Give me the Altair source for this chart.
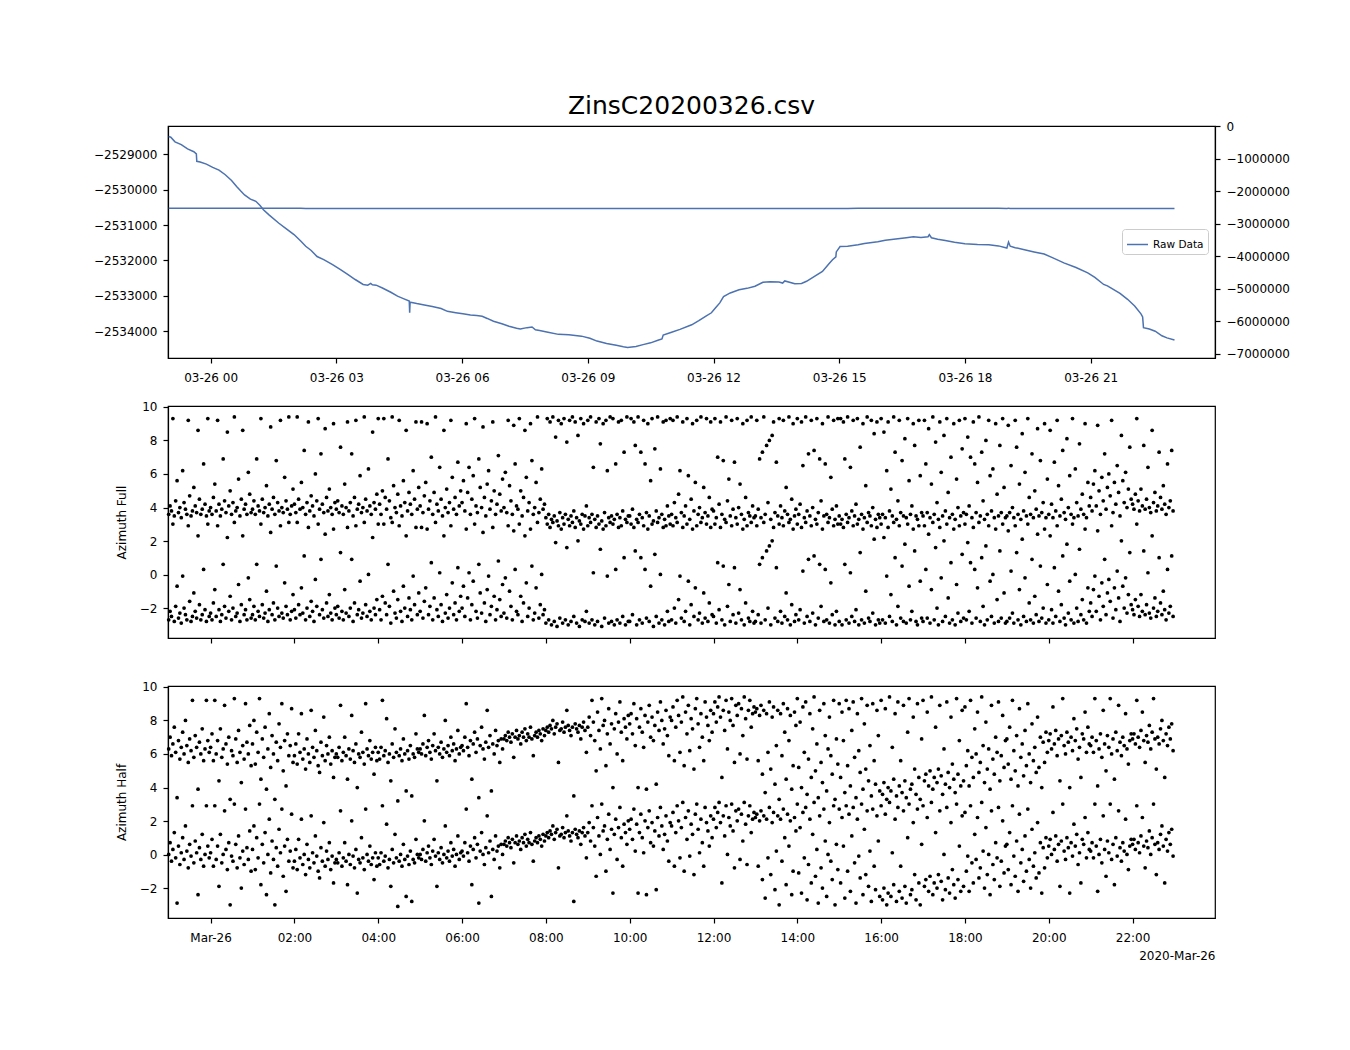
import altair as alt
import pandas as pd
import numpy as np

TITLE = "ZinsC20200326.csv"

# ---- top panel: raw data (hours relative to 2020-03-26 00:00) ----
raw_hours = [-1.00, -0.95, -0.85, -0.70, -0.55, -0.40, -0.34, -0.33, -0.25, -0.10, 0.05, 0.20, 0.35, 0.50,
             0.62, 0.72, 0.81, 0.95, 1.08, 1.18, 1.26, 1.40, 1.63, 1.80, 1.99, 2.15, 2.27, 2.40, 2.54, 2.70,
             2.91, 3.10, 3.28, 3.45, 3.64, 3.75, 3.82, 3.86, 3.95, 4.10, 4.30, 4.46, 4.60, 4.74, 4.75, 4.76,
             4.80, 4.92, 5.10, 5.29, 5.50, 5.65, 5.85, 6.02, 6.20, 6.35, 6.48, 6.60, 6.75, 6.95, 7.12, 7.30,
             7.39, 7.55, 7.67, 7.75, 7.85, 8.05, 8.30, 8.55, 8.85, 9.05, 9.22, 9.45, 9.68, 9.85, 9.95, 10.15,
             10.32, 10.50, 10.69, 10.77, 10.80, 11.00, 11.20, 11.48, 11.65, 11.81, 11.95, 12.05, 12.15, 12.24,
             12.40, 12.61, 12.80, 12.99, 13.18, 13.35, 13.56, 13.65, 13.70, 13.94, 14.10, 14.22, 14.40, 14.60,
             14.75, 14.84, 14.92, 14.93, 15.02, 15.20, 15.45, 15.60, 15.92, 16.10, 16.40, 16.60, 16.77, 16.95,
             17.12, 17.15, 17.20, 17.35, 17.53, 17.75, 18.00, 18.30, 18.57, 18.80, 19.00, 19.04, 19.08, 19.20,
             19.42, 19.65, 19.89, 20.10, 20.36, 20.65, 20.93, 21.10, 21.31, 21.40, 21.50, 21.70, 21.88, 22.05,
             22.20, 22.24, 22.26, 22.40, 22.54, 22.70, 22.82, 23.00]
raw_values = [-2528500, -2528520, -2528650, -2528730, -2528850, -2528930, -2528990, -2529200, -2529220,
              -2529280, -2529370, -2529450, -2529580, -2529740, -2529910, -2530040, -2530150, -2530270,
              -2530330, -2530450, -2530570, -2530720, -2530950, -2531100, -2531270, -2531450, -2531600,
              -2531720, -2531890, -2531980, -2532120, -2532260, -2532400, -2532540, -2532680, -2532700,
              -2532650, -2532690, -2532700, -2532780, -2532900, -2533010, -2533080, -2533150, -2533480,
              -2533180, -2533190, -2533220, -2533260, -2533300, -2533360, -2533440, -2533480, -2533510,
              -2533540, -2533560, -2533580, -2533640, -2533720, -2533790, -2533860, -2533920, -2533940,
              -2533900, -2533880, -2533960, -2533980, -2534030, -2534090, -2534100, -2534140, -2534200,
              -2534280, -2534350, -2534400, -2534440, -2534460, -2534430, -2534380, -2534330, -2534250,
              -2534220, -2534110, -2534030, -2533950, -2533820, -2533700, -2533580, -2533480, -2533340,
              -2533200, -2533020, -2532920, -2532830, -2532790, -2532730, -2532620, -2532600, -2532610,
              -2532640, -2532580, -2532660, -2532650, -2532590, -2532460, -2532310, -2532100, -2531980,
              -2531900, -2531760, -2531610, -2531600, -2531560, -2531520, -2531470, -2531430, -2531390,
              -2531360, -2531330, -2531350, -2531330, -2531270, -2531360, -2531400, -2531440, -2531490,
              -2531530, -2531550, -2531560, -2531590, -2531650, -2531480, -2531600, -2531640, -2531700,
              -2531760, -2531820, -2531930, -2532070, -2532200, -2532350, -2532480, -2532680, -2532720,
              -2532790, -2532930, -2533100, -2533290, -2533510, -2533600, -2533900, -2533940, -2534000,
              -2534130, -2534190, -2534250]

# ---- azimuth samples, one every 2 minutes from 2020-03-25 23:00 (upper copy, in [pi, 3pi]) ----
full_u = [
    3.6, 4.1, 3.8, 9.3, 3.5, 4.4, 5.6, 3.7, 4.0, 3.4, 6.2, 4.3, 3.9, 3.6, 9.2, 4.7, 3.5, 3.8, 5.2, 4.1, 3.7, 8.6, 4.5, 3.6, 3.9, 6.6, 4.2, 3.5, 9.3, 3.8,
    4.0, 3.6, 4.6, 5.4, 3.8, 9.2, 4.2, 3.5, 3.9, 6.9, 4.4, 3.7, 8.5, 4.1, 5.0, 3.6, 4.3, 9.4, 3.8, 4.0, 5.7, 3.5, 4.5, 8.6, 3.9, 4.2, 3.6, 6.1, 4.8, 3.7,
    3.9, 4.4, 3.6, 6.9, 4.1, 3.8, 9.3, 4.5, 3.7, 4.0, 5.3, 3.5, 4.2, 8.8, 3.9, 4.6, 3.6, 6.8, 4.3, 3.8, 9.2, 4.0, 3.7, 5.8, 4.4, 3.9, 9.4, 3.6, 4.1, 5.1,
    4.2, 3.7, 9.4, 4.5, 3.9, 5.5, 4.0, 7.4, 3.6, 4.3, 9.1, 3.8, 4.7, 4.1, 3.5, 6.0, 4.4, 9.3, 3.9, 7.2, 4.2, 3.7, 8.7, 4.6, 3.8, 5.1, 4.0, 3.6, 9.0, 4.3,
    3.9, 4.4, 3.7, 7.6, 4.1, 3.6, 5.4, 4.0, 9.1, 3.8, 4.3, 7.2, 3.5, 4.6, 9.2, 3.9, 4.2, 5.9, 3.7, 4.0, 9.4, 4.5, 3.8, 6.3, 4.1, 3.6, 8.5, 4.3, 3.9, 4.8,
    9.3, 4.2, 3.6, 5.0, 9.3, 4.6, 3.9, 6.9, 4.4, 3.4, 9.4, 5.3, 4.0, 3.7, 4.8, 9.2, 4.1, 3.5, 5.6, 4.3, 8.6, 3.8, 4.9, 4.2, 3.6, 6.2, 4.5, 9.1, 3.9, 5.2,
    4.1, 9.1, 3.7, 4.7, 5.5, 9.0, 3.9, 4.4, 7.0, 3.6, 4.9, 9.4, 4.2, 3.8, 6.4, 4.5, 3.5, 8.6, 4.0, 5.1, 3.7, 4.3, 9.2, 5.8, 3.9, 4.6, 3.6, 6.7, 4.1, 5.0,
    4.3, 5.6, 3.8, 9.0, 4.9, 6.4, 3.6, 4.5, 5.9, 9.3, 4.1, 3.7, 6.9, 5.2, 4.0, 8.8, 4.6, 3.5, 5.4, 6.2, 3.9, 4.4, 9.1, 5.0, 3.6, 4.2, 7.1, 4.8, 3.8, 5.7,
    4.0, 6.1, 3.7, 9.2, 5.3, 4.4, 3.6, 8.9, 6.6, 4.1, 3.9, 9.3, 5.0, 3.5, 4.6, 8.6, 5.8, 3.8, 4.3, 9.0, 6.8, 3.6, 4.0, 5.5, 9.4, 3.7, 4.5, 6.3, 3.9, 4.2,
    3.4, 9.3, 3.6, 9.1, 3.3, 9.4, 3.5, 8.2, 3.2, 9.2, 3.7, 9.0, 3.4, 9.3, 3.6, 7.9, 3.3, 9.2, 3.5, 9.4, 3.8, 9.1, 3.4, 8.3, 3.2, 9.3, 3.6, 9.0, 3.5, 4.1,
    9.2, 3.4, 9.4, 3.6, 6.4, 3.3, 9.1, 3.5, 9.3, 7.8, 3.2, 9.0, 3.7, 9.2, 6.2, 3.4, 9.4, 3.5, 9.3, 3.3, 6.6, 3.6, 9.1, 3.4, 9.2, 3.8, 7.3, 3.3, 9.4, 3.5,
    3.5, 9.3, 3.9, 9.1, 7.7, 3.3, 9.4, 3.6, 7.3, 3.4, 9.2, 6.6, 3.7, 9.0, 3.5, 5.6, 9.3, 3.2, 7.5, 3.8, 9.4, 3.4, 6.3, 3.6, 9.1, 3.3, 9.2, 4.1, 3.5, 9.3,
    3.6, 9.2, 4.3, 3.4, 9.4, 4.8, 6.2, 3.7, 9.1, 3.5, 4.1, 9.3, 5.9, 3.3, 4.5, 9.0, 3.8, 5.5, 9.2, 3.6, 4.0, 9.4, 3.4, 5.2, 3.7, 9.3, 3.5, 4.6, 9.1, 3.9,
    3.8, 9.3, 3.4, 7.0, 4.2, 9.1, 3.6, 6.8, 3.3, 9.4, 4.4, 5.7, 3.5, 9.2, 3.9, 6.7, 3.4, 9.3, 4.0, 5.4, 3.6, 9.0, 3.3, 4.6, 9.2, 3.7, 3.5, 9.4, 4.1, 3.4,
    3.5, 9.2, 3.9, 6.9, 3.4, 7.3, 9.4, 3.6, 7.7, 4.3, 8.0, 3.3, 8.3, 9.1, 3.7, 6.7, 3.5, 9.3, 4.1, 3.4, 9.2, 3.8, 5.2, 3.6, 9.4, 3.3, 4.5, 9.0, 3.5, 3.9,
    9.3, 3.6, 4.2, 9.1, 6.5, 3.4, 9.4, 3.8, 7.2, 3.5, 9.2, 4.0, 7.4, 3.3, 9.3, 3.7, 6.9, 4.4, 9.0, 3.5, 6.6, 3.6, 9.4, 3.4, 5.8, 3.9, 9.2, 3.3, 4.1, 9.3,
    3.5, 9.3, 3.3, 9.1, 6.9, 3.6, 9.4, 3.4, 6.4, 3.8, 9.2, 3.5, 4.2, 9.3, 3.3, 7.6, 3.6, 9.0, 3.4, 5.3, 9.4, 3.7, 3.5, 9.2, 4.0, 8.4, 3.3, 9.1, 3.6, 3.4,
    9.3, 3.6, 8.5, 3.4, 6.2, 9.1, 3.8, 5.1, 3.5, 9.4, 7.3, 3.3, 4.4, 9.2, 3.7, 6.8, 3.5, 8.1, 3.4, 9.3, 5.6, 3.6, 4.1, 9.0, 7.7, 3.5, 3.3, 9.2, 5.9, 3.7,
    3.5, 9.2, 6.6, 3.7, 8.7, 3.4, 5.4, 9.4, 3.6, 7.9, 4.3, 3.3, 9.1, 6.1, 3.5, 8.3, 3.8, 9.3, 4.9, 3.4, 7.0, 3.6, 9.0, 3.3, 5.7, 4.0, 9.2, 3.5, 7.5, 3.7,
    9.3, 3.6, 8.2, 4.1, 7.0, 3.4, 9.1, 6.6, 3.7, 5.5, 9.4, 3.5, 7.3, 4.4, 3.3, 8.0, 3.6, 9.2, 5.9, 3.8, 6.3, 3.4, 9.0, 4.8, 3.5, 7.7, 3.7, 9.3, 5.2, 3.4,
    3.5, 8.9, 3.7, 6.5, 4.0, 3.4, 9.2, 7.6, 3.6, 5.4, 3.3, 8.4, 3.8, 6.1, 3.5, 9.3, 4.6, 3.6, 7.2, 3.4, 5.0, 3.9, 8.7, 3.5, 6.8, 3.7, 4.3, 9.0, 3.4, 5.7,
    3.6, 8.6, 4.2, 3.4, 6.7, 3.8, 9.2, 5.3, 3.5, 4.5, 7.4, 3.7, 3.3, 8.1, 4.0, 5.9, 3.6, 9.3, 3.4, 6.3, 4.3, 3.5, 7.8, 3.9, 4.8, 3.6, 9.0, 3.4, 5.5, 4.1,
    4.6, 3.8, 5.4, 6.2, 4.1, 8.9, 5.0, 3.6, 5.8, 4.4, 7.2, 3.9, 5.2, 6.0, 4.7, 9.2, 3.7, 5.5, 4.2, 6.5, 4.9, 3.5, 8.3, 5.6, 4.3, 6.1, 4.0, 5.1, 7.6, 4.5,
    4.2, 3.9, 4.8, 9.3, 4.4, 3.8, 5.1, 4.1, 7.7, 3.9, 4.5, 6.4, 4.0, 3.7, 8.6, 4.3, 4.9, 3.8, 4.1, 7.3, 4.6, 3.9, 5.3, 4.2, 3.6, 6.6, 4.0, 4.4, 7.4, 3.8,
]

half_u = [
    6.3, 7.0, 5.9, 6.6, 7.6, 6.1, 3.4, 6.8, 5.7, 6.4, 7.3, 6.0, 8.0, 6.5, 5.5, 6.9, 6.2, 9.2, 5.8, 7.1, 6.4, 3.9, 6.7, 6.0, 7.5, 5.6, 6.3, 9.2, 6.8, 6.1,
    6.4, 7.2, 5.6, 9.2, 6.0, 6.8, 4.4, 7.5, 5.8, 6.3, 8.9, 6.6, 5.4, 7.0, 3.3, 6.2, 5.9, 9.3, 6.9, 5.5, 7.4, 6.1, 4.3, 6.5, 5.7, 9.0, 6.7, 6.0, 7.7, 5.3,
    6.6, 8.0, 5.4, 7.3, 6.1, 9.3, 4.5, 6.9, 5.8, 7.6, 3.9, 6.3, 8.4, 5.2, 7.1, 6.0, 3.3, 6.7, 5.6, 7.8, 6.4, 9.0, 5.0, 6.8, 4.1, 7.2, 5.9, 6.5, 8.7, 5.5,
    5.9, 6.6, 5.4, 7.2, 6.1, 8.4, 5.7, 6.3, 5.1, 6.9, 6.0, 5.5, 8.6, 6.4, 5.8, 7.4, 6.2, 5.3, 4.9, 6.7, 5.9, 8.2, 5.6, 6.5, 6.0, 7.0, 5.4, 6.2, 4.6, 5.8,
    6.0, 5.8, 6.4, 8.9, 5.6, 6.1, 7.0, 5.9, 4.5, 6.3, 5.7, 8.3, 6.2, 5.5, 6.6, 4.0, 6.0, 5.8, 7.3, 6.1, 5.4, 9.0, 6.3, 5.9, 6.8, 5.7, 6.1, 4.8, 6.4, 5.6,
    6.1, 5.7, 6.4, 9.2, 5.9, 6.2, 8.1, 5.5, 6.0, 4.4, 6.6, 5.8, 7.5, 6.1, 3.2, 5.9, 6.3, 5.6, 6.9, 6.0, 3.8, 6.2, 5.7, 6.5, 3.5, 6.0, 5.8, 7.2, 6.3, 6.1,
    6.3, 6.0, 6.6, 8.3, 5.9, 6.4, 6.8, 6.1, 5.7, 6.5, 7.2, 6.2, 4.4, 6.4, 6.0, 6.7, 5.8, 6.3, 8.0, 6.1, 6.5, 5.9, 7.0, 6.2, 6.6, 5.6, 6.3, 7.4, 6.0, 6.4,
    6.5, 6.2, 7.0, 9.0, 6.4, 5.9, 6.8, 4.5, 6.6, 7.3, 6.1, 6.9, 3.4, 6.5, 7.6, 6.3, 5.7, 6.7, 8.6, 6.4, 7.1, 3.8, 6.6, 6.0, 7.4, 6.5, 6.8, 5.5, 6.9, 6.3,
    6.9, 7.1, 6.8, 7.3, 7.0, 6.7, 7.2, 5.8, 7.0, 7.4, 6.9, 7.1, 6.6, 7.3, 7.0, 7.5, 6.8, 7.2, 7.0, 7.6, 6.9, 5.9, 7.1, 7.3, 7.0, 7.4, 7.2, 6.8, 7.5, 7.1,
    7.4, 7.6, 7.3, 7.7, 7.5, 8.0, 7.2, 7.6, 7.8, 5.5, 7.4, 7.5, 7.9, 7.3, 7.6, 8.6, 7.7, 7.4, 7.1, 7.6, 3.5, 7.8, 7.5, 7.3, 7.7, 6.9, 7.6, 7.9, 7.4, 6.1,
    7.6, 8.2, 7.1, 9.2, 7.9, 6.8, 5.0, 8.5, 7.4, 6.3, 9.3, 7.7, 8.0, 5.3, 7.2, 8.7, 6.6, 7.8, 4.0, 7.5, 8.4, 6.0, 7.9, 9.1, 7.3, 5.6, 8.1, 7.6, 6.9, 8.3,
    7.8, 8.4, 7.2, 9.0, 6.5, 8.1, 4.0, 7.6, 8.7, 7.3, 6.4, 8.3, 3.9, 7.9, 8.9, 7.0, 8.2, 6.8, 7.7, 4.2, 8.5, 7.4, 9.1, 8.0, 6.6, 7.5, 8.6, 7.1, 5.9, 8.2,
    8.0, 8.8, 5.6, 7.6, 9.2, 8.3, 6.1, 7.9, 9.4, 5.3, 8.5, 7.2, 8.9, 6.2, 8.1, 7.5, 5.1, 8.7, 9.3, 7.8, 6.4, 8.4, 7.0, 5.6, 9.1, 8.2, 7.7, 6.8, 8.6, 7.3,
    8.4, 9.1, 7.9, 8.8, 9.4, 8.2, 4.6, 8.6, 7.4, 9.2, 6.3, 8.5, 8.0, 9.3, 7.7, 5.5, 8.9, 8.3, 9.0, 6.0, 8.7, 7.1, 9.4, 8.1, 5.7, 8.6, 9.2, 7.6, 8.4, 8.8,
    8.5, 8.7, 5.6, 8.3, 8.9, 4.8, 8.6, 3.7, 8.4, 6.1, 9.1, 5.1, 8.2, 8.8, 4.2, 6.5, 8.6, 3.3, 8.4, 5.9, 9.0, 7.3, 4.5, 8.7, 6.8, 8.3, 3.9, 5.3, 8.5, 7.7,
    9.3, 5.2, 7.9, 4.0, 8.8, 6.1, 9.1, 3.6, 5.7, 8.4, 4.6, 7.5, 9.4, 5.0, 6.6, 3.4, 8.6, 5.5, 4.3, 9.0, 7.1, 3.8, 6.3, 8.2, 5.9, 4.8, 9.2, 3.3, 6.9, 5.4,
    9.0, 4.6, 8.5, 6.8, 3.7, 9.2, 5.3, 8.7, 4.1, 7.4, 9.1, 5.8, 3.4, 8.4, 6.2, 4.9, 9.3, 3.9, 7.8, 5.1, 8.9, 4.4, 6.5, 3.5, 9.0, 5.6, 4.2, 8.6, 7.1, 3.8,
    9.2, 3.6, 4.3, 8.7, 3.3, 4.0, 9.4, 3.8, 6.4, 4.5, 8.4, 3.5, 9.1, 4.1, 5.6, 3.7, 8.9, 4.4, 3.4, 7.3, 9.3, 3.9, 4.2, 8.2, 5.1, 3.6, 9.0, 4.6, 3.3, 6.9,
    9.2, 4.4, 4.8, 8.5, 4.1, 5.0, 9.4, 3.9, 4.6, 7.6, 4.3, 5.1, 8.9, 4.7, 3.6, 6.3, 4.2, 9.1, 4.9, 4.0, 8.2, 5.4, 4.5, 3.7, 9.3, 4.8, 6.8, 4.1, 8.6, 4.4,
    8.8, 5.3, 6.2, 4.1, 9.2, 5.8, 4.6, 7.5, 6.0, 8.5, 4.9, 5.5, 9.4, 6.5, 4.3, 7.9, 5.1, 6.3, 3.9, 8.9, 5.7, 4.8, 7.0, 6.1, 9.1, 4.4, 5.9, 8.3, 5.2, 6.8,
    6.9, 5.4, 7.6, 4.5, 9.2, 6.2, 5.0, 7.1, 4.1, 8.7, 5.8, 6.6, 4.7, 7.4, 5.3, 9.0, 6.0, 4.3, 7.8, 5.6, 6.4, 4.9, 8.2, 5.2, 7.0, 4.0, 6.7, 5.5, 7.3, 6.1,
    6.8, 7.2, 6.3, 8.8, 6.6, 7.4, 5.9, 6.9, 4.4, 7.1, 9.3, 6.5, 6.0, 7.3, 6.7, 4.0, 7.0, 6.2, 8.1, 6.8, 7.5, 5.7, 6.4, 4.6, 7.2, 6.9, 8.5, 6.1, 7.6, 6.6,
    6.5, 7.0, 6.1, 9.3, 6.8, 4.1, 6.3, 7.2, 5.8, 8.6, 6.6, 5.0, 7.1, 6.4, 9.3, 6.0, 6.9, 4.5, 7.3, 6.2, 8.9, 6.7, 5.9, 7.0, 6.5, 8.4, 6.3, 5.4, 6.8, 7.2,
    6.9, 7.2, 6.6, 9.2, 7.0, 6.4, 7.4, 8.5, 6.8, 5.5, 7.1, 6.7, 7.7, 6.3, 7.3, 9.3, 6.9, 5.1, 7.0, 6.6, 7.5, 8.0, 6.8, 4.6, 7.2, 6.5, 7.6, 6.9, 7.8, 6.2,
]

left_ticks = [-2529000, -2530000, -2531000, -2532000, -2533000, -2534000]
right_ticks = [0, -1000000, -2000000, -3000000, -4000000, -5000000, -6000000, -7000000]
az_ticks = [-2, 0, 2, 4, 6, 8, 10]
top_tick_hours = [0, 3, 6, 9, 12, 15, 18, 21]
bot_tick_hours = [0, 2, 4, 6, 8, 10, 12, 14, 16, 18, 20, 22]

# ---- data frames ----
day0 = pd.Timestamp("2020-03-26 00:00:00")
raw_df = pd.DataFrame({
    "time": [day0 + pd.Timedelta(hours=h) for h in raw_hours],
    "value": raw_values,
    "series": "Raw Data",
})

start = pd.Timestamp("2020-03-25 23:00:00")
TWO_PI = 2 * np.pi


def az_frame(u_vals):
    t = [start + pd.Timedelta(minutes=2 * i) for i in range(len(u_vals))]
    u = np.array(u_vals, dtype=float)
    return pd.DataFrame({"time": t + t, "az": np.concatenate([u, u - TWO_PI])})


full_df = az_frame(full_u)
half_df = az_frame(half_u)


def dt(day, h, m=0):
    return alt.DateTime(year=2020, month=3, date=day, hours=h, minutes=m)


xdom = [dt(25, 22, 59), dt(26, 23, 58)]
top_vals = [dt(26, h) for h in top_tick_hours]
bot_vals = [dt(26, h) for h in bot_tick_hours]
W, H = 1047, 232
BLUE = "#4c72b0"
FS = 12
PT = 14


def top_x():
    return alt.X("time:T", scale=alt.Scale(domain=xdom),
                 axis=alt.Axis(title=None, format="%m-%d %H", values=top_vals))


# ---- top panel ----
line_left = alt.Chart(raw_df).mark_line(strokeWidth=1.5).encode(
    x=top_x(),
    y=alt.Y("value:Q", scale=alt.Scale(domain=[-2534758, -2528202], nice=False, zero=False),
            axis=alt.Axis(title=None, values=left_ticks, format="d")),
    color=alt.Color("series:N", scale=alt.Scale(range=[BLUE]),
                    legend=alt.Legend(title=None, orient="none", legendX=954, legendY=103,
                                      labelFontSize=10.5, symbolStrokeWidth=1.5, symbolSize=441,
                                      strokeColor="#cccccc", padding=4, cornerRadius=3)),
)
line_right = alt.Chart(raw_df).mark_line(strokeWidth=1.5, color=BLUE).encode(
    x=top_x(),
    y=alt.Y("value:Q", scale=alt.Scale(domain=[-7130000, 0], nice=False, zero=False),
            axis=alt.Axis(title=None, orient="right", values=right_ticks, format="d")),
)
top = alt.layer(line_left, line_right).resolve_scale(y="independent").properties(width=W, height=H)

# ---- azimuth panels ----
mid = alt.Chart(full_df).mark_circle(size=PT, color="black", opacity=1).encode(
    x=alt.X("time:T", scale=alt.Scale(domain=xdom),
            axis=alt.Axis(title=None, labels=False, values=bot_vals)),
    y=alt.Y("az:Q", scale=alt.Scale(domain=[-3.77, 10.05], nice=False, zero=False),
            axis=alt.Axis(title="Azimuth Full", values=az_ticks, format="d")),
).properties(width=W, height=H)

bot = alt.Chart(half_df).mark_circle(size=PT, color="black", opacity=1).encode(
    x=alt.X("time:T", scale=alt.Scale(domain=xdom),
            axis=alt.Axis(title="2020-Mar-26", titleAnchor="end", titlePadding=7,
                          format="%H:%M", values=bot_vals,
                          labelExpr="datum.label == '00:00' ? 'Mar-26' : datum.label")),
    y=alt.Y("az:Q", scale=alt.Scale(domain=[-3.77, 10.05], nice=False, zero=False),
            axis=alt.Axis(title="Azimuth Half", values=az_ticks, format="d")),
).properties(width=W, height=H)

lower = alt.vconcat(mid, bot, spacing=35)
chart = alt.vconcat(top, lower, spacing=16).properties(
    title=alt.TitleParams(TITLE, fontSize=25, fontWeight="normal", color="black",
                          anchor="middle", offset=0),
    padding={"left": 84, "top": 86, "right": 5, "bottom": 5},
).configure(
    font="DejaVu Sans",
).configure_view(
    stroke="black", strokeWidth=1.2,
).configure_axis(
    grid=False, domainColor="black", domainWidth=1.2, tickColor="black", tickWidth=1.2,
    tickSize=5, labelColor="black", labelFontSize=FS,
    titleColor="black", titleFontSize=FS, titleFontWeight="normal",
).configure_axisX(
    labelPadding=9,
).configure_axisY(
    labelPadding=6, titlePadding=11,
)

chart.save("out.html", embed_options={"renderer": "svg", "actions": False})
